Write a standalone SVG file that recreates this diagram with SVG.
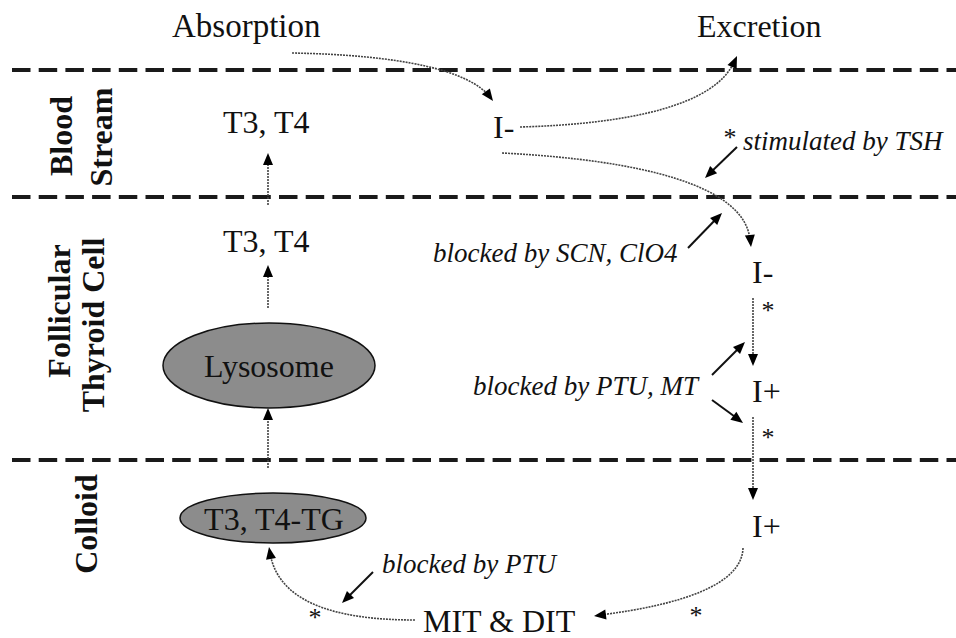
<svg xmlns="http://www.w3.org/2000/svg" xmlns:xlink="http://www.w3.org/1999/xlink" width="956" height="638" viewBox="0 0 956 638" font-family="Liberation Serif" font-size="32">
  <defs>
    <path id="ah" d="M0,0 L-12,-5 L-12,5 z" fill="#000"/>
  </defs>
  <rect width="956" height="638" fill="#fff"/>

  <g id="zones">
    <g stroke="#1a1a1a" stroke-width="4" stroke-dasharray="18.5 8.2" fill="none">
      <line x1="12" y1="70" x2="956" y2="70"/>
      <line x1="12" y1="197" x2="956" y2="197"/>
      <line x1="12" y1="460" x2="956" y2="460"/>
    </g>
    <g font-weight="bold" text-anchor="middle" fill="#111">
      <text style="font-family:'Liberation Serif',serif" transform="translate(72,136) rotate(-90)">Blood</text>
      <text style="font-family:'Liberation Serif',serif" transform="translate(112,137) rotate(-90)">Stream</text>
      <text style="font-family:'Liberation Serif',serif" transform="translate(70,311) rotate(-90)">Follicular</text>
      <text style="font-family:'Liberation Serif',serif" transform="translate(104,325) rotate(-90)">Thyroid Cell</text>
      <text style="font-family:'Liberation Serif',serif" transform="translate(97,524) rotate(-90)">Colloid</text>
    </g>
  </g>

  <g id="connectors">
    <g stroke="#444" stroke-width="1.6" stroke-dasharray="2 1" fill="none">
      <path d="M292,53 C400,55 470,70 491,98"/>
      <path d="M520,127 C630,124 715,105 734,62"/>
      <path d="M502,153 C640,160 745,185 750,240"/>
      <path d="M753,298 L753,360"/>
      <path d="M753,417 L753,494"/>
      <path d="M743,548 C742,585 680,605 600,615"/>
      <path d="M415,620 C330,620 278,600 270,553"/>
      <path d="M268,205 L268,160"/>
      <path d="M268,308 L268,272"/>
      <path d="M268,468 L268,415"/>
    </g>
    <g stroke="#111" stroke-width="2" fill="none">
      <path d="M737,147 L709,174"/>
      <path d="M688,248 L718,217"/>
      <path d="M712,375 L741,346"/>
      <path d="M712,400 L738,419"/>
      <path d="M373,572 L346,599"/>
    </g>
    <use xlink:href="#ah" transform="translate(493,101) rotate(53.4)"/>
    <use xlink:href="#ah" transform="translate(737,56) rotate(-65.8)"/>
    <use xlink:href="#ah" transform="translate(751,247) rotate(84.5)"/>
    <use xlink:href="#ah" transform="translate(753,366) rotate(90)"/>
    <use xlink:href="#ah" transform="translate(753,500) rotate(90)"/>
    <use xlink:href="#ah" transform="translate(594,616) rotate(172.7)"/>
    <use xlink:href="#ah" transform="translate(269,547) rotate(-99.6)"/>
    <use xlink:href="#ah" transform="translate(268,153) rotate(-90)"/>
    <use xlink:href="#ah" transform="translate(268,265) rotate(-90)"/>
    <use xlink:href="#ah" transform="translate(268,408) rotate(-90)"/>
    <use xlink:href="#ah" transform="translate(705,178) rotate(135.9)"/>
    <use xlink:href="#ah" transform="translate(722,213) rotate(-45.8)"/>
    <use xlink:href="#ah" transform="translate(745,342) rotate(-45)"/>
    <use xlink:href="#ah" transform="translate(743,423) rotate(36.6)"/>
    <use xlink:href="#ah" transform="translate(342,603) rotate(135)"/>
  </g>

  <g fill="#111">
    <g id="absorption"><text style="font-family:'Liberation Serif',serif" x="172" y="37" font-size="33">Absorption</text></g>
    <g id="excretion"><text style="font-family:'Liberation Serif',serif" x="697" y="37">Excretion</text></g>
    <g id="t3t4-blood"><text style="font-family:'Liberation Serif',serif" x="223" y="133">T3, T4</text></g>
    <g id="t3t4-cell"><text style="font-family:'Liberation Serif',serif" x="223" y="252">T3, T4</text></g>
    <g id="iminus-blood"><text style="font-family:'Liberation Serif',serif" x="493" y="138">I-</text></g>
    <g id="iminus-cell"><text style="font-family:'Liberation Serif',serif" x="752" y="283">I-</text></g>
    <g id="iplus-cell"><text style="font-family:'Liberation Serif',serif" x="752" y="402">I+</text></g>
    <g id="iplus-colloid"><text style="font-family:'Liberation Serif',serif" x="752" y="537">I+</text></g>
    <g id="mit-dit"><text style="font-family:'Liberation Serif',serif" x="423" y="632">MIT &amp; DIT</text></g>
    <g id="lysosome">
      <ellipse cx="269" cy="365.5" rx="106" ry="42.5" fill="#8c8c8c" stroke="#111" stroke-width="1.5"/>
      <text style="font-family:'Liberation Serif',serif" x="269" y="377" text-anchor="middle">Lysosome</text>
    </g>
    <g id="t3t4-tg">
      <ellipse cx="273" cy="518" rx="93" ry="25" fill="#8c8c8c" stroke="#111" stroke-width="1.5"/>
      <text style="font-family:'Liberation Serif',serif" x="274" y="530" text-anchor="middle">T3, T4-TG</text>
    </g>
  </g>

  <g id="notes" fill="#111">
    <g font-size="27" font-style="italic">
      <text style="font-family:'Liberation Serif',serif" x="743" y="150">stimulated by TSH</text>
      <text style="font-family:'Liberation Serif',serif" x="433" y="262">blocked by SCN, ClO4</text>
      <text style="font-family:'Liberation Serif',serif" x="473" y="395">blocked by PTU, MT</text>
      <text style="font-family:'Liberation Serif',serif" x="382" y="573">blocked by PTU</text>
    </g>
    <g font-size="26" text-anchor="middle">
      <text style="font-family:'Liberation Serif',serif" x="730" y="146">*</text>
      <text style="font-family:'Liberation Serif',serif" x="768" y="319">*</text>
      <text style="font-family:'Liberation Serif',serif" x="768" y="446">*</text>
      <text style="font-family:'Liberation Serif',serif" x="696" y="624">*</text>
      <text style="font-family:'Liberation Serif',serif" x="315" y="626">*</text>
    </g>
  </g>
</svg>
